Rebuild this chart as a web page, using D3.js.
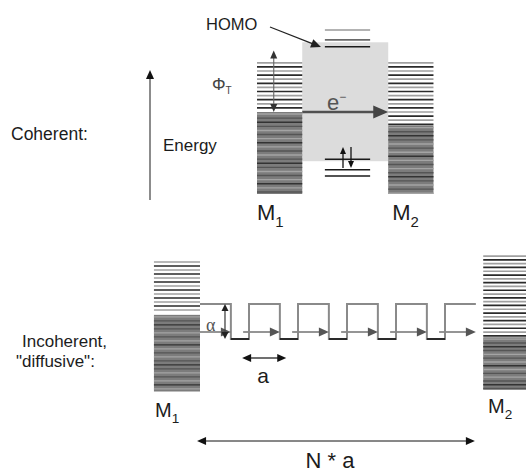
<!DOCTYPE html>
<html>
<head>
<meta charset="utf-8">
<script src="https://cdn.jsdelivr.net/npm/d3@7"></script>
<style>
body { margin: 0; background: #fff; }
text { font-family: "Liberation Sans", Arial, sans-serif; fill: #1c1c1c; }
</style>
</head>
<body>
<svg id="chart" width="526" height="474"></svg>
<script>
// coherent panel: positions in nm, energies in eV (Fermi level of M1 = 0)
var topBlockNames = ["1", "2"];
var topBlockX = [[0, 1], [2.9, 3.9]];
var topBandTop = [1.2, 1.2];
var topFermi = [0, -0.33];
var topBandBottom = [-2, -2];
var barrierX = [1, 2.9];
var barrierE = [-1.2, 1.7];
var upperLevels = [2.0, 1.76, 1.59];
var lowerLevels = [-1.15, -1.41, -1.56];
var levelX = [1.5, 2.5];

// incoherent panel: positions in units of a, energies in units of alpha
var sites = [0, 1, 2, 3, 4, 5];
var botBlockNames = ["1", "2"];
var botBlockX = [[-0.94, 0], [5.78, 6.8]];
var botBandTop = [2.2, 2.37];
var botFermi = [0.69, 0.05];
var botBandBottom = [-1.5, -1.45];
var hopLevel = 1, siteLevel = 0, arrowLevel = 0.2, hopWidth = 0.63;

var svg = d3.select("#chart");
svg.append("rect").attr("width", 526).attr("height", 474).attr("fill", "#fff");

var xTop = d3.scaleLinear().domain([0, 4]).range([257, 438]);
var yTop = d3.scaleLinear().domain([-2, 2]).range([194, 30]);
var xBot = d3.scaleLinear().domain([0, 1]).range([200, 249]);
var yBot = d3.scaleLinear().domain([0, 1]).range([339, 304]);

function head(g, x, y, ang, len, hw, color) {
    var c = Math.cos(ang), s = Math.sin(ang);
    var bx = x - c * len, by = y - s * len;
    g.append("path")
        .attr("d", "M" + x + "," + y + "L" + (bx - s * hw) + "," + (by + c * hw) +
            "L" + (bx + s * hw) + "," + (by - c * hw) + "Z")
        .attr("fill", color);
}

function arrow(g, x1, y1, x2, y2, o) {
    var ang = Math.atan2(y2 - y1, x2 - x1);
    var len = o.len || 9, hw = o.hw || 4;
    var c = Math.cos(ang), s = Math.sin(ang);
    var sx = x1 + (o.both ? c * len * 0.8 : 0), sy = y1 + (o.both ? s * len * 0.8 : 0);
    g.append("line")
        .attr("x1", sx).attr("y1", sy)
        .attr("x2", x2 - c * len * 0.8).attr("y2", y2 - s * len * 0.8)
        .attr("stroke", o.color).attr("stroke-width", o.width);
    head(g, x2, y2, ang, len, hw, o.headColor || o.color);
    if (o.both) head(g, x1, y1, ang + Math.PI, len, hw, o.headColor || o.color);
}

function drawBlock(g, x0, x1, top, fermi, bottom, pitch) {
    g.append("rect")
        .attr("x", x0).attr("y", fermi)
        .attr("width", x1 - x0).attr("height", bottom - fermi)
        .attr("fill", "#7c7c7c");
    var empty = d3.range(top, fermi - 1, pitch);
    g.selectAll(null).data(empty).enter().append("line")
        .attr("x1", x0).attr("x2", x1)
        .attr("y1", function (d) { return d; }).attr("y2", function (d) { return d; })
        .attr("stroke", function (d, i) { return i % 2 ? "#2a2a2a" : "#a0a0a0"; })
        .attr("stroke-width", 1.7);
    var full = d3.range(fermi + pitch / 2, bottom, pitch);
    g.selectAll(null).data(full).enter().append("line")
        .attr("x1", x0).attr("x2", x1)
        .attr("y1", function (d) { return d; }).attr("y2", function (d) { return d; })
        .attr("stroke", function (d, i) { return i % 5 === 2 ? "#333" : (i % 2 ? "#555" : "#a4a4a4"); })
        .attr("stroke-width", 1.4);
}

function mLabel(g, x, y, sub, size) {
    var t = g.append("text").attr("x", x).attr("y", y)
        .style("font-size", size + "px");
    t.append("tspan").text("M");
    t.append("tspan").attr("dy", size * 0.32).style("font-size", (size * 0.68) + "px").text(sub);
}

// ---------------- coherent panel ----------------
var gTop = svg.append("g");

gTop.append("rect")
    .attr("x", xTop(barrierX[0])).attr("y", yTop(barrierE[1]))
    .attr("width", xTop(barrierX[1]) - xTop(barrierX[0]))
    .attr("height", yTop(barrierE[0]) - yTop(barrierE[1]))
    .attr("fill", "#dcdcdc");

topBlockNames.forEach(function (n, i) {
    drawBlock(gTop, xTop(topBlockX[i][0]), xTop(topBlockX[i][1]),
        yTop(topBandTop[i]), yTop(topFermi[i]), yTop(topBandBottom[i]), 4.1);
    mLabel(gTop, xTop(topBlockX[i][0]) + (i ? 4 : 0), 220, n, 22);
});

var upperColors = ["#9a9a9a", "#6a6a6a", "#1a1a1a"];
gTop.selectAll(".up").data(upperLevels).enter().append("line")
    .attr("x1", xTop(levelX[0])).attr("x2", xTop(levelX[1]))
    .attr("y1", yTop).attr("y2", yTop)
    .attr("stroke", function (d, i) { return upperColors[i]; })
    .attr("stroke-width", 1.6);
gTop.selectAll(".lo").data(lowerLevels).enter().append("line")
    .attr("x1", xTop(levelX[0])).attr("x2", xTop(levelX[1]))
    .attr("y1", yTop).attr("y2", yTop)
    .attr("stroke", "#1a1a1a")
    .attr("stroke-width", 1.5);

// spin pair on the occupied level
arrow(gTop, 343, 168, 343, 147, { color: "#111", width: 1.3, len: 7, hw: 3 });
arrow(gTop, 351, 147, 351, 168, { color: "#111", width: 1.3, len: 7, hw: 3 });

// energy axis
arrow(gTop, 150, 200, 150, 70, { color: "#666", width: 1.5, len: 9, hw: 4, headColor: "#111" });
gTop.append("text").attr("x", 163).attr("y", 151).style("font-size", "17px").text("Energy");
gTop.append("text").attr("x", 11).attr("y", 140).style("font-size", "17.5px").text("Coherent:");

// barrier height
arrow(gTop, xTop(0.37), yTop(topFermi[0]), xTop(0.37), yTop(1.5),
    { color: "#666", width: 1.1, len: 8, hw: 3.5, both: true, headColor: "#333" });
var phi = gTop.append("text").attr("x", 212).attr("y", 90)
    .style("font-size", "17px").style("fill", "#444");
phi.append("tspan").text("\u03A6");
phi.append("tspan").attr("dy", 4).style("font-size", "10px").text("T");

// tunnelling electron
arrow(gTop, xTop(barrierX[0]), yTop(topFermi[0]), xTop(barrierX[1]), yTop(topFermi[0]),
    { color: "#505050", width: 2.6, len: 15, hw: 6.5, headColor: "#444" });
var el = gTop.append("text").attr("x", 327).attr("y", 110).style("font-size", "22px").style("fill", "#555");
el.append("tspan").text("e");
el.append("tspan").attr("dy", -9).style("font-size", "12px").text("\u2212");

// HOMO pointer
gTop.append("text").attr("x", 206).attr("y", 30).style("font-size", "16.5px").text("HOMO");
arrow(gTop, 270, 27, 321, 47, { color: "#222", width: 1.2, len: 10, hw: 4.5 });

// ---------------- incoherent panel ----------------
var gBot = svg.append("g");

botBlockNames.forEach(function (n, i) {
    drawBlock(gBot, xBot(botBlockX[i][0]), xBot(botBlockX[i][1]),
        yBot(botBandTop[i]), yBot(botFermi[i]), yBot(botBandBottom[i]), i ? 3.8 : 4.0);
});
mLabel(gBot, 155, 417, "1", 20);
mLabel(gBot, 488, 413, "2", 20);

// hopping square wave
var wave = [];
sites.forEach(function (k) {
    if (k > 0) wave.push([k, siteLevel]);
    wave.push([k, hopLevel]);
    wave.push([k + hopWidth, hopLevel]);
    if (k < sites.length - 1) wave.push([k + hopWidth, siteLevel]);
});
var line = d3.line().x(function (d) { return xBot(d[0]); }).y(function (d) { return yBot(d[1]); });
gBot.append("path").attr("d", line(wave))
    .attr("fill", "none").attr("stroke", "#8a8a8a").attr("stroke-width", 2);
gBot.selectAll(".low").data(sites.slice(0, -1)).enter().append("line")
    .attr("x1", function (k) { return xBot(k + hopWidth); })
    .attr("x2", function (k) { return xBot(k + 1); })
    .attr("y1", yBot(siteLevel)).attr("y2", yBot(siteLevel))
    .attr("stroke", "#2a2a2a").attr("stroke-width", 2);

sites.forEach(function (k) {
    var x0 = k === 0 ? xBot(0) : xBot(k - 0.12);
    arrow(gBot, x0, yBot(arrowLevel), xBot(k + hopWidth), yBot(arrowLevel),
        { color: "#8a8a8a", width: 1.8, len: 10, hw: 4.5, headColor: "#555" });
});

// alpha
arrow(gBot, xBot(0.51), yBot(siteLevel), xBot(0.51), yBot(hopLevel),
    { color: "#444", width: 1.3, len: 7, hw: 3.5, both: true, headColor: "#222" });
gBot.append("text").attr("x", 206).attr("y", 331)
    .style("font-family", "'Liberation Serif', serif").style("font-size", "18px").style("fill", "#555")
    .text("\u03B1");

// lattice constant a
arrow(gBot, xBot(0.86), 358, xBot(1.76), 358, { color: "#111", width: 1.2, len: 9, hw: 4, both: true });
gBot.append("text").attr("x", 263).attr("y", 383).attr("text-anchor", "middle")
    .style("font-size", "21px").text("a");

// total length
arrow(gBot, xBot(-0.06), 441, xBot(5.61), 441, { color: "#111", width: 1, len: 9, hw: 4, both: true });
gBot.append("text").attr("x", 330).attr("y", 468).attr("text-anchor", "middle")
    .style("font-size", "22px").text("N * a");

gBot.append("text").attr("x", 22).attr("y", 347).style("font-size", "17px").text("Incoherent,");
gBot.append("text").attr("x", 16).attr("y", 367).style("font-size", "17px").text("\"diffusive\":");
</script>
</body>
</html>
